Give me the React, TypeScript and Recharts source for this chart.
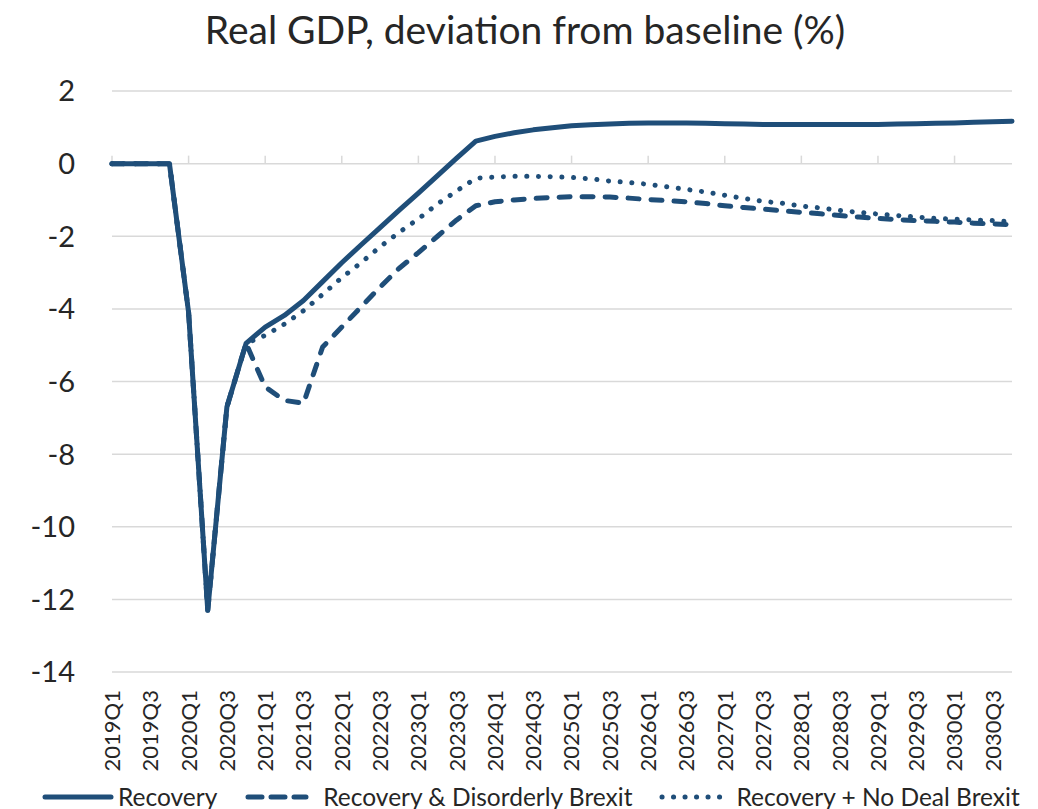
import React from "react";
import {
  LineChart,
  Line,
  XAxis,
  YAxis,
  CartesianGrid,
  ReferenceLine,
} from "recharts";

// Quarterly categories, 2019Q1 – 2030Q4
const quarters = [
  "2019Q1", "2019Q2", "2019Q3", "2019Q4",
  "2020Q1", "2020Q2", "2020Q3", "2020Q4",
  "2021Q1", "2021Q2", "2021Q3", "2021Q4",
  "2022Q1", "2022Q2", "2022Q3", "2022Q4",
  "2023Q1", "2023Q2", "2023Q3", "2023Q4",
  "2024Q1", "2024Q2", "2024Q3", "2024Q4",
  "2025Q1", "2025Q2", "2025Q3", "2025Q4",
  "2026Q1", "2026Q2", "2026Q3", "2026Q4",
  "2027Q1", "2027Q2", "2027Q3", "2027Q4",
  "2028Q1", "2028Q2", "2028Q3", "2028Q4",
  "2029Q1", "2029Q2", "2029Q3", "2029Q4",
  "2030Q1", "2030Q2", "2030Q3", "2030Q4",
];

// Real GDP, % deviation from baseline
const recovery = [
  0, 0, 0, 0,
  -4.1, -12.3, -6.7, -4.95,
  -4.5, -4.18, -3.77, -3.25,
  -2.73, -2.24, -1.76, -1.28,
  -0.81, -0.33, 0.15, 0.62,
  0.75, 0.85, 0.93, 0.99,
  1.04, 1.07, 1.09, 1.11,
  1.12, 1.12, 1.12, 1.11,
  1.1, 1.09, 1.08, 1.08,
  1.08, 1.08, 1.08, 1.08,
  1.08, 1.09, 1.1, 1.11,
  1.12, 1.14, 1.15, 1.17,
];

const disorderlyBrexit = [
  0, 0, 0, 0,
  -4.1, -12.3, -6.7, -4.95,
  -6.15, -6.52, -6.6, -5.05,
  -4.5, -3.95, -3.4, -2.88,
  -2.45, -2.0, -1.55, -1.16,
  -1.05, -1.0, -0.96, -0.93,
  -0.91, -0.91, -0.92, -0.95,
  -0.99, -1.02, -1.05, -1.1,
  -1.16, -1.21, -1.25, -1.3,
  -1.34, -1.38, -1.43, -1.47,
  -1.51, -1.54, -1.57, -1.59,
  -1.61, -1.64, -1.66, -1.68,
];

const noDealBrexit = [
  0, 0, 0, 0,
  -4.1, -12.3, -6.7, -4.95,
  -4.73, -4.42, -4.05, -3.6,
  -3.14, -2.73, -2.29, -1.89,
  -1.52, -1.11, -0.75, -0.4,
  -0.37, -0.35, -0.35, -0.36,
  -0.38, -0.42, -0.48, -0.52,
  -0.57, -0.64, -0.71, -0.78,
  -0.87, -0.96, -1.04, -1.09,
  -1.17, -1.22, -1.29, -1.34,
  -1.39, -1.43, -1.47, -1.51,
  -1.53, -1.55, -1.57, -1.6,
];

const yTicks = [-14, -12, -10, -8, -6, -4, -2, 0, 2];

const NAVY = "#1F4E79";
const TEXT = "#262626";
const GRID = "#d9d9d9";
const FONT = "Lato, 'Open Sans', sans-serif";

const series = [
  { key: "recovery", name: "Recovery", dash: undefined as string | undefined, legendDash: undefined as string | undefined },
  { key: "disorderly", name: "Recovery & Disorderly Brexit", dash: "11 12", legendDash: "14 9" },
  { key: "noDeal", name: "Recovery + No Deal Brexit", dash: "0.1 11.6", legendDash: "0.1 11.4" },
];

const data = quarters.map((q, i) => ({
  quarter: q,
  recovery: recovery[i],
  disorderly: disorderlyBrexit[i],
  noDeal: noDealBrexit[i],
}));

// Year boundaries get a small tick mark on the zero line
const yearStarts = quarters.filter((q) => q.endsWith("Q1"));

const YTick = (props: any) => {
  const { y, payload } = props;
  return (
    <text
      x={75}
      y={y}
      dy="0.36em"
      textAnchor="end"
      fontSize={29}
      fontFamily={FONT}
      fill={TEXT}
    >
      {payload.value}
    </text>
  );
};

const XTick = (props: any) => {
  const { x, y, payload } = props;
  return (
    <text
      x={x}
      y={y}
      dy="0.36em"
      transform={`rotate(-90, ${x}, ${y})`}
      textAnchor="end"
      fontSize={22}
      fontFamily={FONT}
      fill={TEXT}
    >
      {payload.value}
    </text>
  );
};

const LegendSwatch = ({ dash }: { dash?: string }) => (
  <svg width={dash ? 64 : 72} height={12} style={{ display: "block" }}>
    <line
      x1={3}
      y1={6}
      x2={dash ? 61 : 69}
      y2={6}
      stroke={NAVY}
      strokeWidth={5}
      strokeLinecap="round"
      strokeDasharray={dash}
    />
  </svg>
);

export default function App() {
  return (
    <div
      style={{
        position: "absolute",
        left: 0,
        top: 0,
        width: 1038,
        height: 809,
        background: "#ffffff",
        fontFamily: FONT,
      }}
    >
      <div
        style={{
          position: "absolute",
          top: 5,
          left: 6,
          width: 1038,
          textAlign: "center",
          fontSize: 39,
          lineHeight: "48px",
          color: TEXT,
        }}
      >
        Real GDP, deviation from baseline (%)
      </div>

      <LineChart
        width={1038}
        height={809}
        data={data}
        margin={{ top: 91, right: 26, bottom: 0, left: 0 }}
        style={{ position: "absolute", left: 0, top: 0 }}
      >
        <CartesianGrid vertical={false} stroke={GRID} strokeWidth={1.5} />
        <XAxis
          dataKey="quarter"
          interval={1}
          height={137}
          axisLine={false}
          tickLine={false}
          tickSize={0}
          tickMargin={18}
          tick={<XTick />}
        />
        <YAxis
          domain={[-14, 2]}
          ticks={yTicks}
          width={112}
          axisLine={false}
          tickLine={false}
          tick={<YTick />}
          allowDataOverflow
        />
        {yearStarts.map((q) => (
          <ReferenceLine
            key={q}
            segment={[
              { x: q, y: 0 },
              { x: q, y: 0.22 },
            ]}
            stroke={GRID}
            strokeWidth={1.5}
            ifOverflow="visible"
          />
        ))}
        {series.map((s) => (
          <Line
            key={s.key}
            dataKey={s.key}
            name={s.name}
            type="linear"
            stroke={NAVY}
            strokeWidth={5}
            strokeDasharray={s.dash}
            strokeLinecap="round"
            strokeLinejoin="round"
            dot={false}
            activeDot={false}
            isAnimationActive={false}
          />
        ))}
      </LineChart>

      <div
        style={{
          position: "absolute",
          top: 785,
          left: 42,
          height: 23,
          display: "flex",
          alignItems: "center",
          fontSize: 24.5,
          lineHeight: "23px",
          color: TEXT,
          whiteSpace: "nowrap",
        }}
      >
        {series.map((s, i) => (
          <div
            key={s.key}
            style={{
              display: "flex",
              alignItems: "center",
              marginLeft: i === 0 ? 0 : i === 1 ? 28 : 26,
            }}
          >
            <LegendSwatch dash={s.legendDash} />
            <span style={{ marginLeft: s.dash ? 14 : 4 }}>{s.name}</span>
          </div>
        ))}
      </div>
    </div>
  );
}
